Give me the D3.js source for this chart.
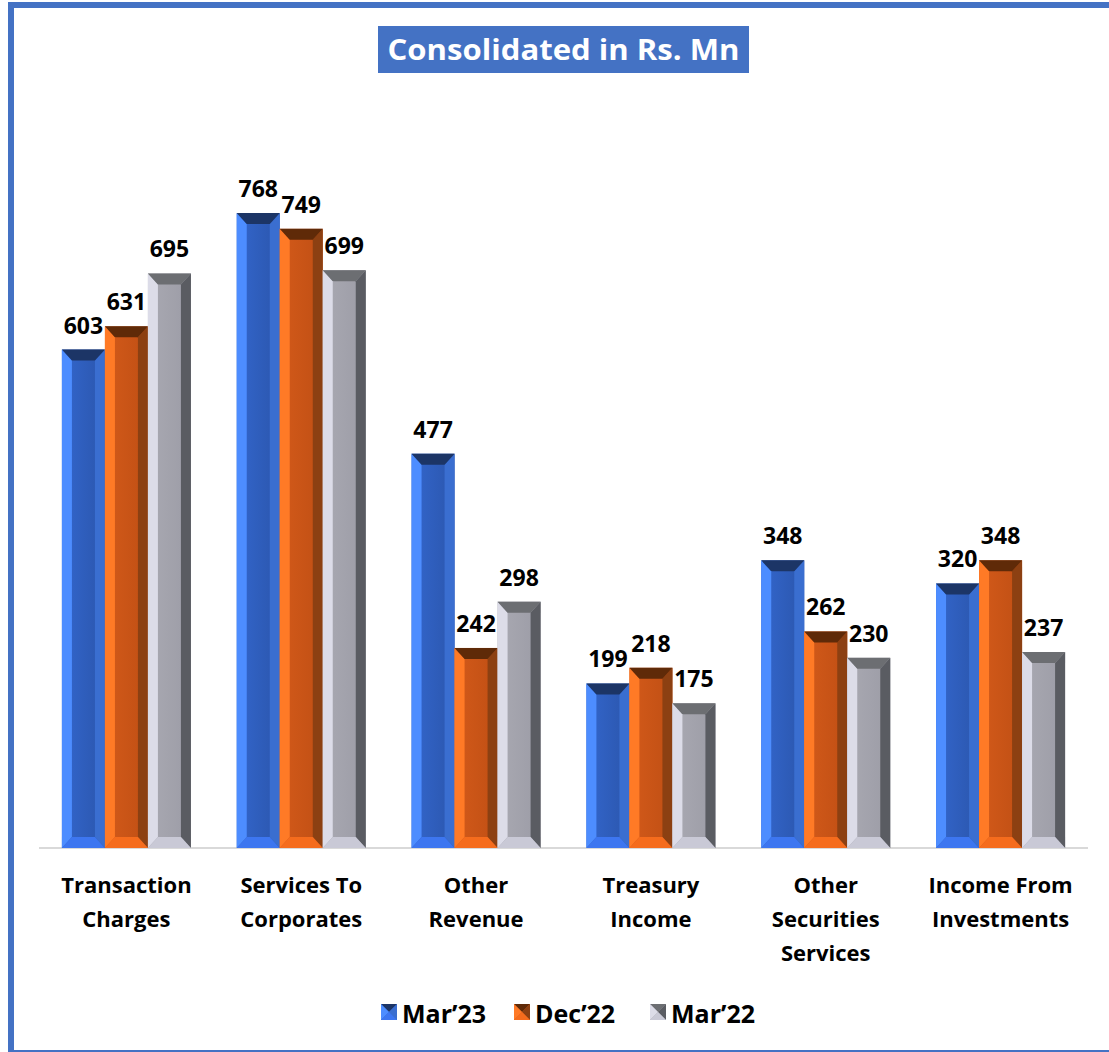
<!DOCTYPE html>
<html>
<head>
<meta charset="utf-8">
<script src="https://cdn.jsdelivr.net/npm/d3@7"></script>
<style>
  html, body { margin: 0; padding: 0; background: #fff; }
  svg { display: block; }
  text { font-family: "Open Sans", Lato, "DejaVu Sans", sans-serif; font-weight: 700; }
</style>
</head>
<body>
<svg id="chart" width="1109" height="1052"></svg>
<script>
// Revenue categories (multi-line labels)
const categories = [
  ["Transaction", "Charges"],
  ["Services To", "Corporates"],
  ["Other", "Revenue"],
  ["Treasury", "Income"],
  ["Other", "Securities", "Services"],
  ["Income From", "Investments"]
];
const seriesNames = ["Mar\u201923", "Dec\u201922", "Mar\u201922"];
const mar23 = [603, 768, 477, 199, 348, 320];
const dec22 = [631, 749, 242, 218, 262, 348];
const mar22 = [695, 699, 298, 175, 230, 237];
const seriesValues = [mar23, dec22, mar22];
const title = "Consolidated in Rs. Mn";

// Bevel shading per series: left, face-light, face-dark, right, top, bottom
const palettes = [
  { left: "#4d8dff", faceA: "#3366cc", faceB: "#2b56ad", right: "#3a6ed0", top: "#1c3566", bottom: "#3d76f0" },
  { left: "#ff7a26", faceA: "#d35a1a", faceB: "#c04f14", right: "#8c4012", top: "#5f2a08", bottom: "#f56c1d" },
  { left: "#dcdce8", faceA: "#a9a9b2", faceB: "#9c9ca6", right: "#5a5c62", top: "#6c6e72", bottom: "#c9c9d6" }
];

const svg = d3.select("#chart");
const defs = svg.append("defs");

palettes.forEach((p, i) => {
  const g = defs.append("linearGradient").attr("id", "face" + i).attr("x1", 0).attr("x2", 1).attr("y1", 0).attr("y2", 0);
  g.append("stop").attr("offset", "0%").attr("stop-color", p.faceA);
  g.append("stop").attr("offset", "100%").attr("stop-color", p.faceB);
});

// Frame
svg.append("path")
  .attr("d", "M11,1052 L11,5 L1112,5")
  .attr("fill", "none").attr("stroke", "#4472c4").attr("stroke-width", 6);
svg.append("line")
  .attr("x1", 8).attr("x2", 1109).attr("y1", 1051).attr("y2", 1051)
  .attr("stroke", "#4472c4").attr("stroke-width", 2);

// Title
const titleG = svg.append("g");
titleG.append("rect").attr("x", 378).attr("y", 26).attr("width", 371).attr("height", 47).attr("fill", "#4472c4");
titleG.append("text").attr("x", 563.5).attr("y", 60).attr("text-anchor", "middle")
  .attr("fill", "#fff").attr("font-size", 28).attr("textLength", 352).attr("lengthAdjust", "spacingAndGlyphs").text(title);

// Scales
const x = d3.scaleBand().domain(d3.range(categories.length)).range([39, 1088])
  .paddingInner(0.262).paddingOuter(0.131);
const xs = d3.scaleBand().domain(d3.range(seriesNames.length)).range([0, x.bandwidth()]);
const y = d3.scaleLinear().domain([0, 900]).range([848, 104]);

// Baseline axis
svg.append("line").attr("x1", 39).attr("x2", 1088).attr("y1", y(0)).attr("y2", y(0))
  .attr("stroke", "#d9d9d9").attr("stroke-width", 2);

const bev = 10;
function bevelBar(g, x0, w, yTop, yBot, p, i) {
  const bh = Math.min(bev + 1, (yBot - yTop) / 2);
  const x1 = x0 + w;
  g.append("rect").attr("x", x0).attr("y", yTop).attr("width", w).attr("height", yBot - yTop).attr("fill", `url(#face${i})`);
  g.append("polygon").attr("points", [[x0, yTop], [x0 + bev, yTop + bh], [x0 + bev, yBot - bh], [x0, yBot]].join(" ")).attr("fill", p.left);
  g.append("polygon").attr("points", [[x1, yTop], [x1 - bev, yTop + bh], [x1 - bev, yBot - bh], [x1, yBot]].join(" ")).attr("fill", p.right);
  g.append("polygon").attr("points", [[x0, yTop], [x1, yTop], [x1 - bev, yTop + bh], [x0 + bev, yTop + bh]].join(" ")).attr("fill", p.top);
  g.append("polygon").attr("points", [[x0, yBot], [x1, yBot], [x1 - bev, yBot - bh], [x0 + bev, yBot - bh]].join(" ")).attr("fill", p.bottom);
}

const bars = svg.append("g");
categories.forEach((cat, ci) => {
  seriesValues.forEach((vals, si) => {
    const v = vals[ci];
    const bx = x(ci) + xs(si);
    const g = bars.append("g");
    bevelBar(g, bx, xs.bandwidth(), y(v), y(0), palettes[si], si);
    svg.append("text").attr("x", bx + xs.bandwidth() / 2).attr("y", y(v) - 16)
      .attr("text-anchor", "middle").attr("font-size", 23).attr("fill", "#000").text(v);
  });
  const t = svg.append("text").attr("text-anchor", "middle").attr("font-size", 22).attr("fill", "#000");
  cat.forEach((line, li) => {
    t.append("tspan").attr("x", x(ci) + x.bandwidth() / 2).attr("y", 893 + li * 34).text(line);
  });
});

// Legend
const legendX = [381, 514, 650];
seriesNames.forEach((name, i) => {
  const p = palettes[i];
  const lx = legendX[i], ly = 1004, s = 16;
  const lg = svg.append("g");
  lg.append("rect").attr("x", lx).attr("y", ly).attr("width", s).attr("height", s).attr("fill", p.faceA);
  lg.append("polygon").attr("points", [[lx, ly], [lx + s, ly], [lx + s / 2, ly + s / 2]].join(" ")).attr("fill", p.top);
  lg.append("polygon").attr("points", [[lx, ly], [lx + s / 2, ly + s / 2], [lx, ly + s]].join(" ")).attr("fill", p.left);
  lg.append("polygon").attr("points", [[lx + s, ly], [lx + s / 2, ly + s / 2], [lx + s, ly + s]].join(" ")).attr("fill", p.right);
  lg.append("polygon").attr("points", [[lx, ly + s], [lx + s / 2, ly + s / 2], [lx + s, ly + s]].join(" ")).attr("fill", p.bottom);
  svg.append("text").attr("x", lx + 21).attr("y", ly + 19).attr("font-size", 25).attr("fill", "#000").text(name);
});
</script>
</body>
</html>
